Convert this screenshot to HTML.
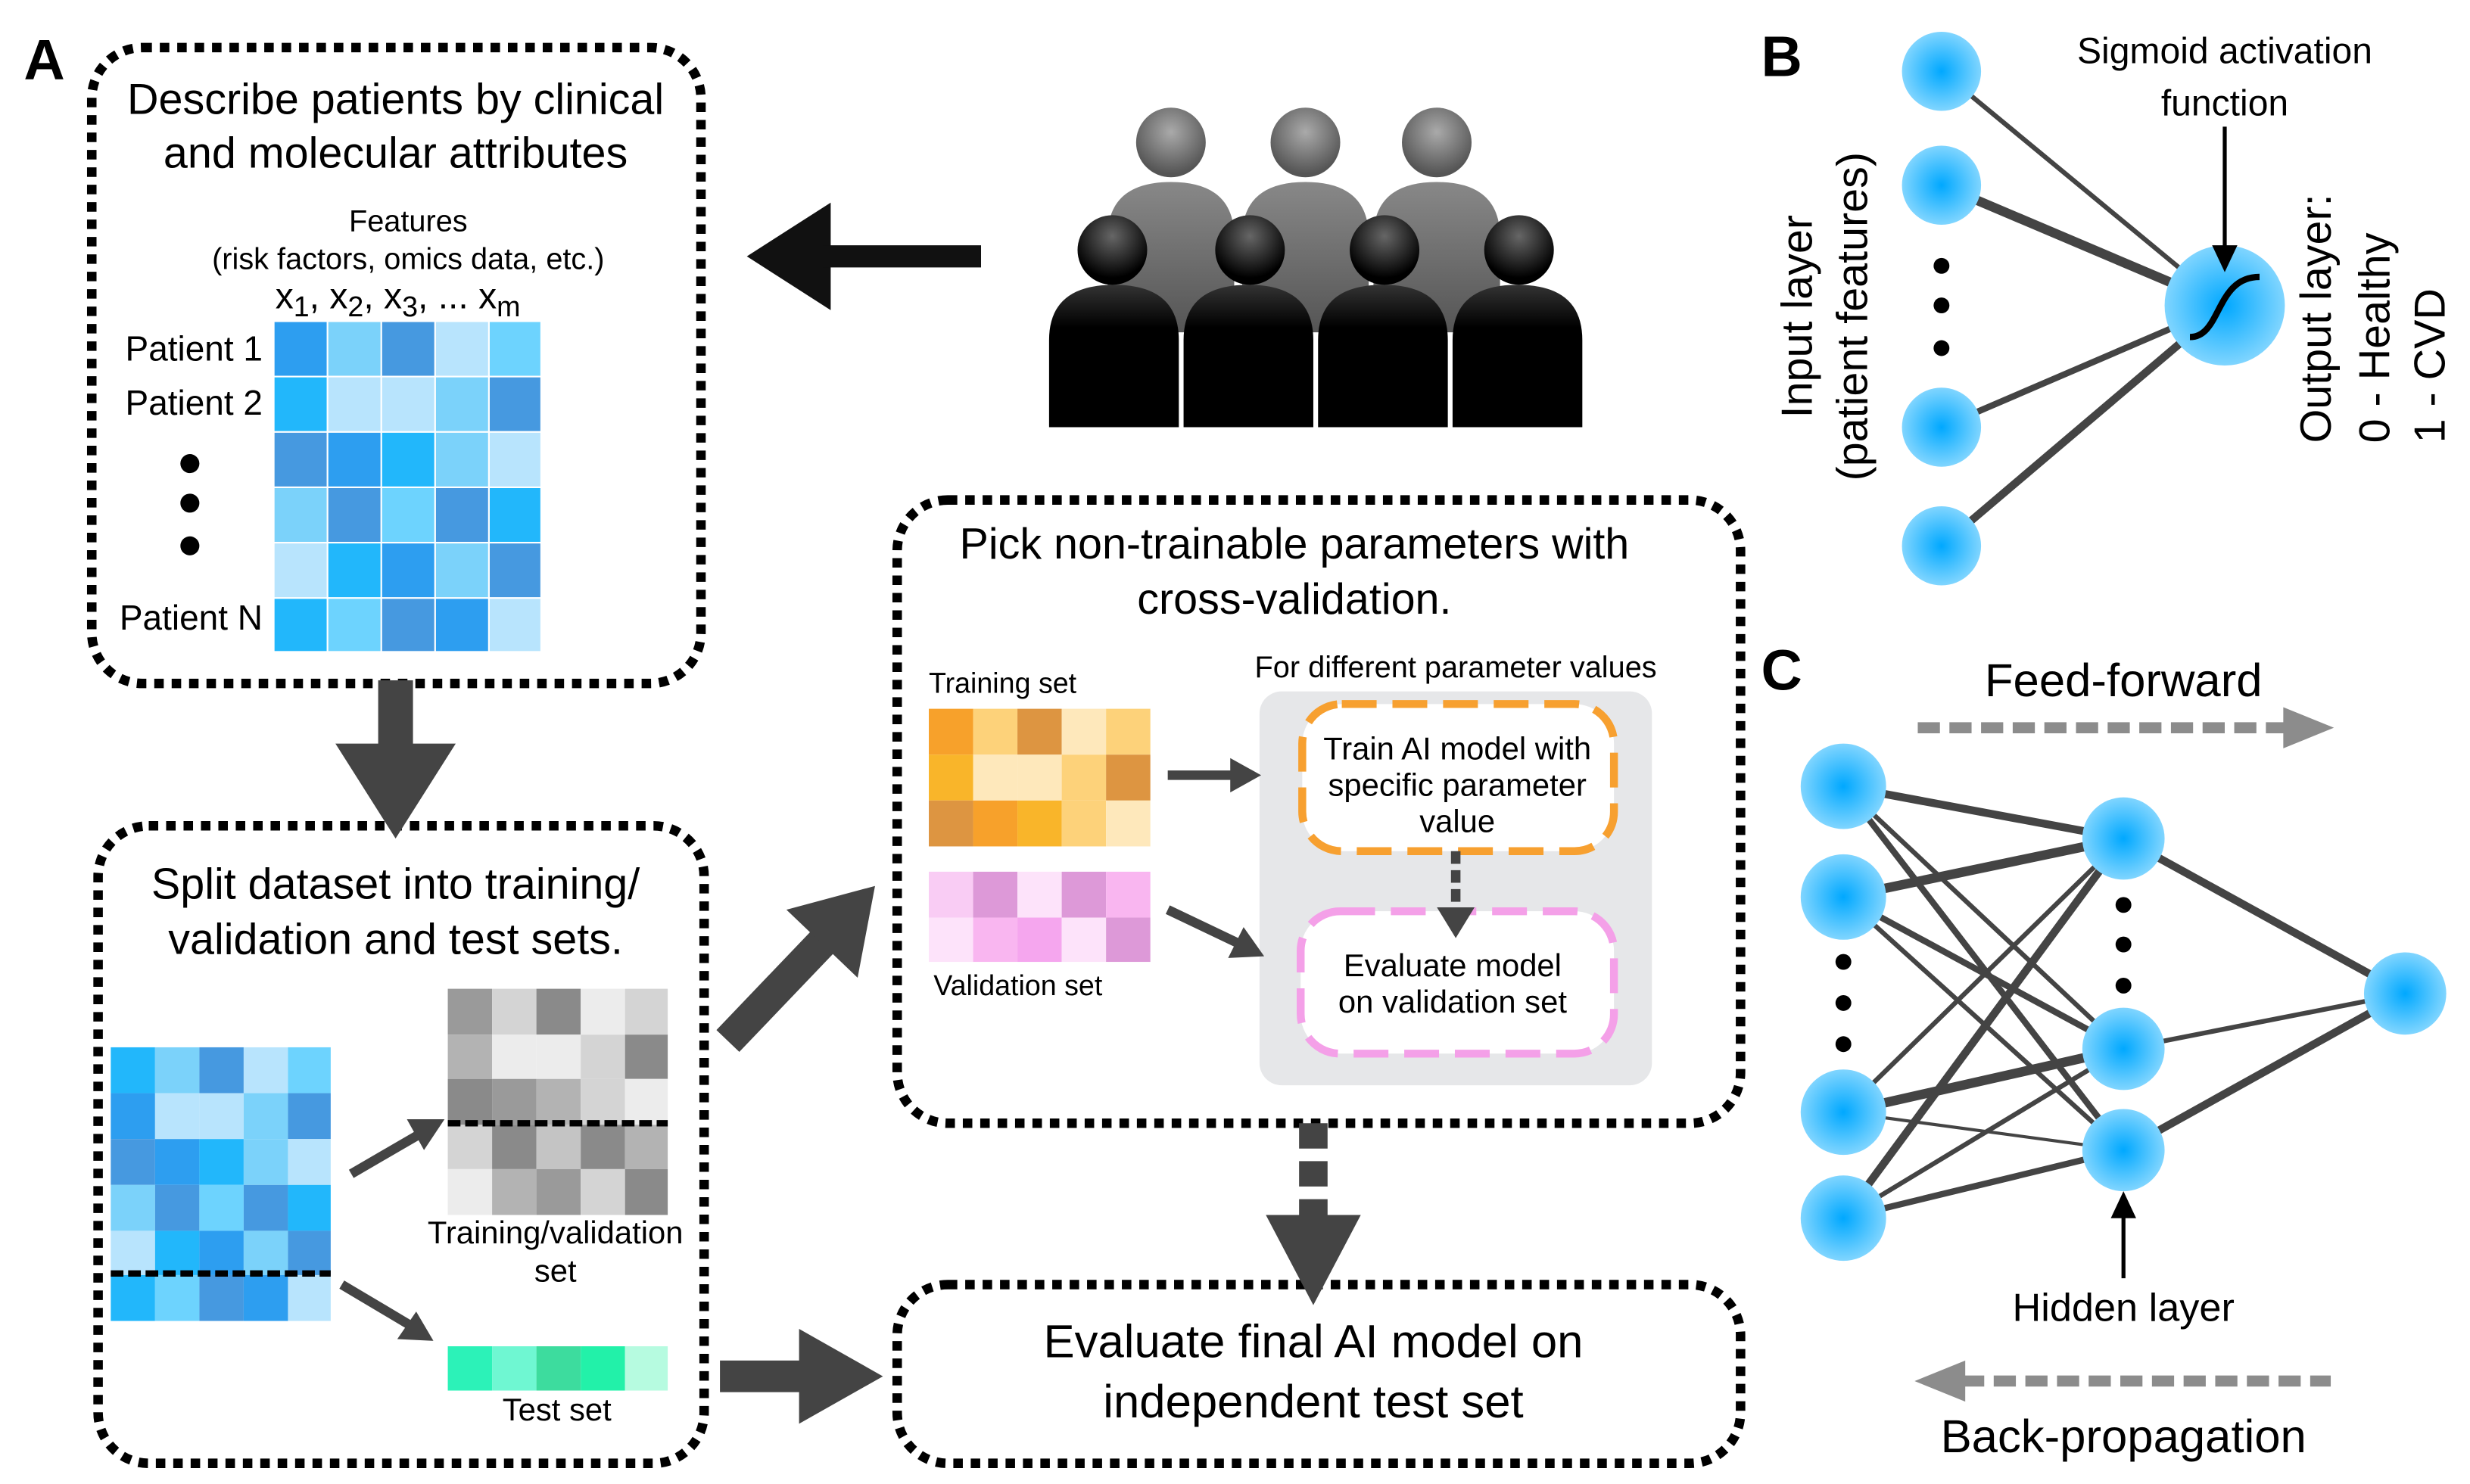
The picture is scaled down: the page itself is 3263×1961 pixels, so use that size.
<!DOCTYPE html>
<html><head><meta charset="utf-8"><style>
html,body{margin:0;padding:0;background:#fff}
svg{display:block}
text{font-family:"Liberation Sans","DejaVu Sans",sans-serif;fill:#000}
</style></head><body>
<svg width="3263" height="1961" viewBox="0 0 1561 938" xmlns="http://www.w3.org/2000/svg">
<defs>
<radialGradient id="nd" cx="50%" cy="50%" r="50%"><stop offset="0" stop-color="#00a8ff"/><stop offset="1" stop-color="#80d5ff"/></radialGradient>
<radialGradient id="hg" cx="50%" cy="35%" r="60%"><stop offset="0" stop-color="#aaa"/><stop offset="1" stop-color="#555"/></radialGradient>
<radialGradient id="hb" cx="50%" cy="30%" r="60%"><stop offset="0" stop-color="#666"/><stop offset="1" stop-color="#000"/></radialGradient>
<linearGradient id="bg" x1="0" y1="0" x2="0" y2="1"><stop offset="0" stop-color="#888"/><stop offset="1" stop-color="#555"/></linearGradient>
<linearGradient id="bb" x1="0" y1="0" x2="0" y2="1"><stop offset="0" stop-color="#333"/><stop offset="0.3" stop-color="#000"/></linearGradient>
</defs>
<g fill="none" stroke="#000" stroke-width="6" stroke-dasharray="6 5">
<rect x="58" y="30" width="385" height="402" rx="32"/>
<rect x="62" y="522" width="383" height="403" rx="32"/>
<rect x="567" y="316" width="533" height="394" rx="32"/>
<rect x="567" y="812" width="533" height="113" rx="32"/>
</g>
<text x="15" y="50" font-size="36" font-weight="bold">A</text>
<text x="1113" y="48" font-size="36" font-weight="bold">B</text>
<text x="1113" y="436" font-size="36" font-weight="bold">C</text>
<g font-size="27.5" text-anchor="middle">
<text x="250" y="72">Describe patients by clinical</text>
<text x="250" y="106">and molecular attributes</text>
<text x="250" y="568">Split dataset into training/</text>
<text x="250" y="603">validation and test sets.</text>
<text x="818" y="353">Pick non-trainable parameters with</text>
<text x="818" y="388">cross-validation.</text>
</g>
<g text-anchor="middle" font-size="19">
<text x="258" y="146">Features</text>
<text x="258" y="170">(risk factors, omics data, etc.)</text>
</g>
<text x="174" y="195" font-size="23">x<tspan font-size="18" dy="5">1</tspan><tspan dy="-5">, x</tspan><tspan font-size="18" dy="5">2</tspan><tspan dy="-5">, x</tspan><tspan font-size="18" dy="5">3</tspan><tspan dy="-5">, ... x</tspan><tspan font-size="18" dy="5">m</tspan></text>
<g font-size="22" text-anchor="end">
<text x="166" y="228">Patient 1</text>
<text x="166" y="262">Patient 2</text>
<text x="166" y="398">Patient N</text>
</g>
<g fill="#000"><circle cx="120" cy="293" r="6"/><circle cx="120" cy="318" r="6"/><circle cx="120" cy="345" r="6"/></g>
<g stroke="#fff" stroke-width="1">
<rect x="173" y="203" width="34" height="35" fill="#2d9ef0"/><rect x="207" y="203" width="34" height="35" fill="#7bd2fa"/><rect x="241" y="203" width="34" height="35" fill="#4699e0"/><rect x="275" y="203" width="34" height="35" fill="#b8e4fd"/><rect x="309" y="203" width="33" height="35" fill="#6dd3fe"/>
<rect x="173" y="238" width="34" height="35" fill="#22b7fb"/><rect x="207" y="238" width="34" height="35" fill="#b8e4fd"/><rect x="241" y="238" width="34" height="35" fill="#b8e4fd"/><rect x="275" y="238" width="34" height="35" fill="#7bd2fa"/><rect x="309" y="238" width="33" height="35" fill="#4699e0"/>
<rect x="173" y="273" width="34" height="35" fill="#4699e0"/><rect x="207" y="273" width="34" height="35" fill="#2d9ef0"/><rect x="241" y="273" width="34" height="35" fill="#22b7fb"/><rect x="275" y="273" width="34" height="35" fill="#7bd2fa"/><rect x="309" y="273" width="33" height="35" fill="#b8e4fd"/>
<rect x="173" y="308" width="34" height="35" fill="#7bd2fa"/><rect x="207" y="308" width="34" height="35" fill="#4699e0"/><rect x="241" y="308" width="34" height="35" fill="#6dd3fe"/><rect x="275" y="308" width="34" height="35" fill="#4699e0"/><rect x="309" y="308" width="33" height="35" fill="#22b7fb"/>
<rect x="173" y="343" width="34" height="35" fill="#b8e4fd"/><rect x="207" y="343" width="34" height="35" fill="#22b7fb"/><rect x="241" y="343" width="34" height="35" fill="#2d9ef0"/><rect x="275" y="343" width="34" height="35" fill="#7bd2fa"/><rect x="309" y="343" width="33" height="35" fill="#4699e0"/>
<rect x="173" y="378" width="34" height="34" fill="#22b7fb"/><rect x="207" y="378" width="34" height="34" fill="#6dd3fe"/><rect x="241" y="378" width="34" height="34" fill="#4699e0"/><rect x="275" y="378" width="34" height="34" fill="#2d9ef0"/><rect x="309" y="378" width="33" height="34" fill="#b8e4fd"/>
</g>
<polygon points="472,162 525,128 525,196" fill="#111"/>
<rect x="520" y="155" width="100" height="14" fill="#111"/>
<g>
<circle cx="740" cy="90" r="22" fill="url(#hg)"/><circle cx="825" cy="90" r="22" fill="url(#hg)"/><circle cx="908" cy="90" r="22" fill="url(#hg)"/>
<path d="M700,210 V150 Q700,115 740,115 Q780,115 780,150 V210Z" fill="url(#bg)"/>
<path d="M785,210 V150 Q785,115 825,115 Q865,115 865,150 V210Z" fill="url(#bg)"/>
<path d="M868,210 V150 Q868,115 908,115 Q948,115 948,150 V210Z" fill="url(#bg)"/>
<path d="M663,270 V215 Q663,180 704,180 Q745,180 745,215 V270Z" fill="url(#bb)"/>
<path d="M748,270 V215 Q748,180 789,180 Q830,180 830,215 V270Z" fill="url(#bb)"/>
<path d="M833,270 V215 Q833,180 874,180 Q915,180 915,215 V270Z" fill="url(#bb)"/>
<path d="M918,270 V215 Q918,180 959,180 Q1000,180 1000,215 V270Z" fill="url(#bb)"/>
<circle cx="703" cy="158" r="22" fill="url(#hb)"/><circle cx="790" cy="158" r="22" fill="url(#hb)"/><circle cx="875" cy="158" r="22" fill="url(#hb)"/><circle cx="960" cy="158" r="22" fill="url(#hb)"/>
</g>
<rect x="239" y="430" width="22" height="45" fill="#444"/>
<polygon points="212,470 288,470 250,530" fill="#444"/>
<g>
<rect x="70" y="662" width="28" height="29" fill="#22b7fb"/><rect x="98" y="662" width="28" height="29" fill="#7bd2fa"/><rect x="126" y="662" width="28" height="29" fill="#4699e0"/><rect x="154" y="662" width="28" height="29" fill="#b8e4fd"/><rect x="182" y="662" width="27" height="29" fill="#6dd3fe"/>
<rect x="70" y="691" width="28" height="29" fill="#2d9ef0"/><rect x="98" y="691" width="28" height="29" fill="#b8e4fd"/><rect x="126" y="691" width="28" height="29" fill="#b8e4fd"/><rect x="154" y="691" width="28" height="29" fill="#7bd2fa"/><rect x="182" y="691" width="27" height="29" fill="#4699e0"/>
<rect x="70" y="720" width="28" height="29" fill="#4699e0"/><rect x="98" y="720" width="28" height="29" fill="#2d9ef0"/><rect x="126" y="720" width="28" height="29" fill="#22b7fb"/><rect x="154" y="720" width="28" height="29" fill="#7bd2fa"/><rect x="182" y="720" width="27" height="29" fill="#b8e4fd"/>
<rect x="70" y="749" width="28" height="29" fill="#7bd2fa"/><rect x="98" y="749" width="28" height="29" fill="#4699e0"/><rect x="126" y="749" width="28" height="29" fill="#6dd3fe"/><rect x="154" y="749" width="28" height="29" fill="#4699e0"/><rect x="182" y="749" width="27" height="29" fill="#22b7fb"/>
<rect x="70" y="778" width="28" height="28" fill="#b8e4fd"/><rect x="98" y="778" width="28" height="28" fill="#22b7fb"/><rect x="126" y="778" width="28" height="28" fill="#2d9ef0"/><rect x="154" y="778" width="28" height="28" fill="#7bd2fa"/><rect x="182" y="778" width="27" height="28" fill="#4699e0"/>
<rect x="70" y="806" width="28" height="29" fill="#22b7fb"/><rect x="98" y="806" width="28" height="29" fill="#6dd3fe"/><rect x="126" y="806" width="28" height="29" fill="#4699e0"/><rect x="154" y="806" width="28" height="29" fill="#2d9ef0"/><rect x="182" y="806" width="27" height="29" fill="#b8e4fd"/>
</g>
<line x1="70" y1="805" x2="209" y2="805" stroke="#000" stroke-width="4" stroke-dasharray="8 3"/>
<g>
<rect x="283" y="625" width="28" height="29" fill="#9a9a9a"/><rect x="311" y="625" width="28" height="29" fill="#d4d4d4"/><rect x="339" y="625" width="28" height="29" fill="#8a8a8a"/><rect x="367" y="625" width="28" height="29" fill="#ececec"/><rect x="395" y="625" width="27" height="29" fill="#d4d4d4"/>
<rect x="283" y="654" width="28" height="28" fill="#b3b3b3"/><rect x="311" y="654" width="28" height="28" fill="#ececec"/><rect x="339" y="654" width="28" height="28" fill="#ececec"/><rect x="367" y="654" width="28" height="28" fill="#d4d4d4"/><rect x="395" y="654" width="27" height="28" fill="#8a8a8a"/>
<rect x="283" y="682" width="28" height="29" fill="#8a8a8a"/><rect x="311" y="682" width="28" height="29" fill="#9a9a9a"/><rect x="339" y="682" width="28" height="29" fill="#b3b3b3"/><rect x="367" y="682" width="28" height="29" fill="#d4d4d4"/><rect x="395" y="682" width="27" height="29" fill="#ececec"/>
<rect x="283" y="711" width="28" height="28" fill="#d4d4d4"/><rect x="311" y="711" width="28" height="28" fill="#8a8a8a"/><rect x="339" y="711" width="28" height="28" fill="#c4c4c4"/><rect x="367" y="711" width="28" height="28" fill="#8a8a8a"/><rect x="395" y="711" width="27" height="28" fill="#b3b3b3"/>
<rect x="283" y="739" width="28" height="29" fill="#ececec"/><rect x="311" y="739" width="28" height="29" fill="#b3b3b3"/><rect x="339" y="739" width="28" height="29" fill="#9a9a9a"/><rect x="367" y="739" width="28" height="29" fill="#d4d4d4"/><rect x="395" y="739" width="27" height="29" fill="#8a8a8a"/>
</g>
<line x1="283" y1="710" x2="422" y2="710" stroke="#000" stroke-width="4" stroke-dasharray="8 3"/>
<g font-size="20" text-anchor="middle"><text x="351" y="786">Training/validation</text><text x="351" y="810">set</text><text x="352" y="898">Test set</text></g>
<g><rect x="283" y="851" width="28" height="28" fill="#2cf2b8"/><rect x="311" y="851" width="28" height="28" fill="#6ff7d2"/><rect x="339" y="851" width="28" height="28" fill="#3ddc9e"/><rect x="367" y="851" width="28" height="28" fill="#22f1a9"/><rect x="395" y="851" width="27" height="28" fill="#b6fbe0"/></g>
<g stroke="#444" stroke-width="6" fill="#444">
<line x1="222" y1="742" x2="265" y2="717"/><polygon points="280,708 258,708 268,726" stroke-width="1"/>
<line x1="216" y1="812" x2="258" y2="837"/><polygon points="273,847 252,846 263,830" stroke-width="1"/>
</g>
<g fill="#444">
<line x1="460" y1="658" x2="525" y2="590" stroke="#444" stroke-width="20"/>
<polygon points="553,560 542,618 497,575"/>
<rect x="455" y="860" width="55" height="20"/>
<polygon points="558,870 505,840 505,900"/>
</g>
<text x="587" y="438" font-size="18">Training set</text>
<text x="590" y="629" font-size="18">Validation set</text>
<text x="920" y="428" font-size="19" text-anchor="middle">For different parameter values</text>
<g>
<rect x="587" y="448" width="28" height="29" fill="#f7a12b"/><rect x="615" y="448" width="28" height="29" fill="#fdd27a"/><rect x="643" y="448" width="28" height="29" fill="#dd9541"/><rect x="671" y="448" width="28" height="29" fill="#fee8bb"/><rect x="699" y="448" width="28" height="29" fill="#fdd27a"/>
<rect x="587" y="477" width="28" height="29" fill="#f9b52a"/><rect x="615" y="477" width="28" height="29" fill="#fee8bb"/><rect x="643" y="477" width="28" height="29" fill="#fee8bb"/><rect x="671" y="477" width="28" height="29" fill="#fdd27a"/><rect x="699" y="477" width="28" height="29" fill="#dd9541"/>
<rect x="587" y="506" width="28" height="29" fill="#dd9541"/><rect x="615" y="506" width="28" height="29" fill="#f7a12b"/><rect x="643" y="506" width="28" height="29" fill="#f9b52a"/><rect x="671" y="506" width="28" height="29" fill="#fdd27a"/><rect x="699" y="506" width="28" height="29" fill="#fee8bb"/>
<rect x="587" y="551" width="28" height="29" fill="#f9ccf4"/><rect x="615" y="551" width="28" height="29" fill="#dd99d8"/><rect x="643" y="551" width="28" height="29" fill="#fde3fa"/><rect x="671" y="551" width="28" height="29" fill="#dd99d8"/><rect x="699" y="551" width="28" height="29" fill="#f9b6f0"/>
<rect x="587" y="580" width="28" height="28" fill="#fde3fa"/><rect x="615" y="580" width="28" height="28" fill="#f9b6f0"/><rect x="643" y="580" width="28" height="28" fill="#f5a6ee"/><rect x="671" y="580" width="28" height="28" fill="#fde3fa"/><rect x="699" y="580" width="28" height="28" fill="#dd99d8"/>
</g>
<rect x="796" y="437" width="248" height="249" rx="14" fill="#e6e7e9"/>
<rect x="823" y="445" width="197" height="93" rx="25" fill="#fff" stroke="#f7a030" stroke-width="5" stroke-dasharray="22 10"/>
<rect x="822" y="576" width="198" height="90" rx="25" fill="#fff" stroke="#f4a0e8" stroke-width="5" stroke-dasharray="22 10"/>
<g font-size="20" text-anchor="middle">
<text x="921" y="480">Train AI model with</text><text x="921" y="503">specific parameter</text><text x="921" y="526">value</text>
<text x="918" y="617">Evaluate model</text><text x="918" y="640">on validation set</text>
</g>
<g stroke="#444" fill="#444">
<line x1="920" y1="538" x2="920" y2="576" stroke-width="6" stroke-dasharray="8 4"/>
<polygon points="909,574 931,574 920,592" stroke-width="1"/>
<line x1="738" y1="490" x2="780" y2="490" stroke-width="6"/>
<polygon points="796,490 778,480 778,500" stroke-width="1"/>
<line x1="738" y1="575" x2="782" y2="596" stroke-width="6"/>
<polygon points="798,604 777,605 786,587" stroke-width="1"/>
</g>
<line x1="830" y1="710" x2="830" y2="772" stroke="#444" stroke-width="18" stroke-dasharray="16 8"/>
<polygon points="800,768 860,768 830,825" fill="#444"/>
<g font-size="29.5" text-anchor="middle"><text x="830" y="858">Evaluate final AI model on</text><text x="830" y="896">independent test set</text></g>

<g stroke="#444" stroke-linecap="round">
<line x1="1227" y1="45" x2="1406" y2="193" stroke-width="3"/>
<line x1="1227" y1="117" x2="1406" y2="193" stroke-width="6"/>
<line x1="1227" y1="270" x2="1406" y2="193" stroke-width="4"/>
<line x1="1227" y1="345" x2="1406" y2="193" stroke-width="5"/>
</g>
<g fill="url(#nd)"><circle cx="1227" cy="45" r="25"/><circle cx="1227" cy="117" r="25"/><circle cx="1227" cy="270" r="25"/><circle cx="1227" cy="345" r="25"/><circle cx="1406" cy="193" r="38"/></g>
<g fill="#000"><circle cx="1227" cy="168" r="5"/><circle cx="1227" cy="193" r="5"/><circle cx="1227" cy="220" r="5"/></g>
<path d="M1384,213 C1404,213 1400,175 1428,175" fill="none" stroke="#000" stroke-width="4"/>
<line x1="1406" y1="80" x2="1406" y2="158" stroke="#000" stroke-width="2.5"/>
<polygon points="1398,155 1414,155 1406,172" fill="#000"/>
<g font-size="23" text-anchor="middle"><text x="1406" y="40">Sigmoid activation</text><text x="1406" y="73">function</text></g>
<g font-size="27.5" text-anchor="middle">
<text transform="translate(1145,200) rotate(-90)">Input layer</text>
<text transform="translate(1180,200) rotate(-90)">(patient features)</text>
</g>
<g font-size="27.5">
<text transform="translate(1473,280) rotate(-90)">Output layer:</text>
<text transform="translate(1510,280) rotate(-90)">0 - Healthy</text>
<text transform="translate(1545,280) rotate(-90)">1 - CVD</text>
</g>

<text x="1342" y="440" font-size="29.5" text-anchor="middle">Feed-forward</text>
<line x1="1212" y1="460" x2="1445" y2="460" stroke="#8c8c8c" stroke-width="7" stroke-dasharray="14 6"/>
<polygon points="1443,447 1475,460 1443,473" fill="#8c8c8c"/>
<g stroke="#444" stroke-linecap="round">
<line x1="1165" y1="497" x2="1342" y2="530" stroke-width="5"/>
<line x1="1165" y1="497" x2="1342" y2="663" stroke-width="3"/>
<line x1="1165" y1="497" x2="1342" y2="727" stroke-width="4"/>
<line x1="1165" y1="567" x2="1342" y2="530" stroke-width="6"/>
<line x1="1165" y1="567" x2="1342" y2="663" stroke-width="4"/>
<line x1="1165" y1="567" x2="1342" y2="727" stroke-width="3"/>
<line x1="1165" y1="703" x2="1342" y2="530" stroke-width="3"/>
<line x1="1165" y1="703" x2="1342" y2="663" stroke-width="6"/>
<line x1="1165" y1="703" x2="1342" y2="727" stroke-width="2"/>
<line x1="1165" y1="770" x2="1342" y2="530" stroke-width="5"/>
<line x1="1165" y1="770" x2="1342" y2="663" stroke-width="3"/>
<line x1="1165" y1="770" x2="1342" y2="727" stroke-width="4"/>
<line x1="1342" y1="530" x2="1520" y2="628" stroke-width="5"/>
<line x1="1342" y1="663" x2="1520" y2="628" stroke-width="3"/>
<line x1="1342" y1="727" x2="1520" y2="628" stroke-width="5"/>
</g>
<g fill="url(#nd)">
<circle cx="1165" cy="497" r="27"/><circle cx="1165" cy="567" r="27"/><circle cx="1165" cy="703" r="27"/><circle cx="1165" cy="770" r="27"/>
<circle cx="1342" cy="530" r="26"/><circle cx="1342" cy="663" r="26"/><circle cx="1342" cy="727" r="26"/>
<circle cx="1520" cy="628" r="26"/>
</g>
<g fill="#000"><circle cx="1165" cy="608" r="5"/><circle cx="1165" cy="634" r="5"/><circle cx="1165" cy="660" r="5"/><circle cx="1342" cy="572" r="5"/><circle cx="1342" cy="597" r="5"/><circle cx="1342" cy="623" r="5"/></g>
<line x1="1342" y1="808" x2="1342" y2="768" stroke="#000" stroke-width="2.5"/>
<polygon points="1334,770 1350,770 1342,753" fill="#000"/>
<text x="1342" y="835" font-size="25" text-anchor="middle">Hidden layer</text>
<line x1="1240" y1="873" x2="1473" y2="873" stroke="#8c8c8c" stroke-width="7" stroke-dasharray="14 6"/>
<polygon points="1242,860 1210,873 1242,886" fill="#8c8c8c"/>
<text x="1342" y="918" font-size="29.5" text-anchor="middle">Back-propagation</text>
</svg>
</body></html>
